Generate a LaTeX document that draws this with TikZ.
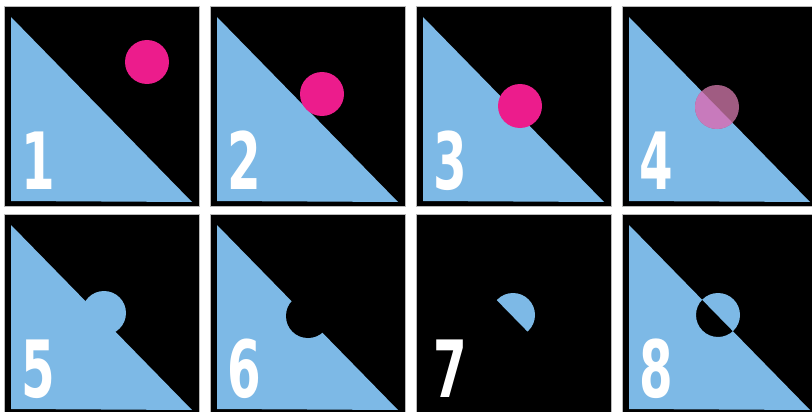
\documentclass[tikz,border=0pt]{standalone}
\usepackage{fontspec}
\newfontfamily\digitfont{DejaVu Sans Condensed}
\usetikzlibrary{positioning}
\definecolor{skyblue}{RGB}{125,185,230}
\definecolor{hotpink}{RGB}{236,28,140}
\definecolor{mauvedark}{RGB}{160,92,130}
\definecolor{mauvelight}{RGB}{200,122,188}
\tikzset{
  panel/.style={fill=black,draw=gray!55,line width=0.7pt},
  tri/.style={fill=skyblue},
  blob/.style={fill=hotpink},
  num/.style={text=white,anchor=base west,inner sep=0pt,
    font=\digitfont\bfseries\fontsize{79}{79}\selectfont}
}
\newcommand{\digit}[1]{\scalebox{0.68}[1]{#1}}

\begin{document}
\begin{tikzpicture}[x=1pt,y=-1pt]
  \fill[white] (0,0) rectangle (812,412);
  \useasboundingbox (0,0) rectangle (812,412);

  % row 1: the dot moves onto the edge
  \begin{scope}[shift={(4,6)}]
    \draw[panel] (0,0) rectangle (195,200);
    \fill[tri] (7,11)--(7,195)--(188,196)--cycle;
    \fill[blob] (143,56) circle (22pt);
    \node[num] (n1) at (17,183) {\digit{1}};
  \end{scope}
  \begin{scope}[shift={(210,6)}]
    \draw[panel] (0,0) rectangle (195,200);
    \fill[tri] (7,11)--(7,195)--(188,196)--cycle;
    \fill[blob] (112,88) circle (22pt);
    \node[num] (n2) at (17,183) {\digit{2}};
  \end{scope}
  \begin{scope}[shift={(416,6)}]
    \draw[panel] (0,0) rectangle (195,200);
    \fill[tri] (7,11)--(7,195)--(188,196)--cycle;
    \fill[blob] (104,100) circle (22pt);
    \node[num] (n3) at (17,183) {\digit{3}};
  \end{scope}
  \begin{scope}[shift={(622,6)}]
    \draw[panel] (0,0) rectangle (195,200);
    \fill[tri] (7,11)--(7,195)--(188,196)--cycle;
    \fill[mauvedark] (95,101) circle (22pt);
    \begin{scope}
      \clip (7,11)--(7,195)--(188,196)--cycle;
      \fill[mauvelight] (95,101) circle (22pt);
    \end{scope}
    \node[num] (n4) at (17,183) {\digit{4}};
  \end{scope}

  % row 2: union, difference, difference, xor
  \begin{scope}[shift={(4,214)}]
    \draw[panel] (0,0) rectangle (195,200);
    \fill[tri] (7,11)--(7,195)--(188,196)--cycle;
    \fill[tri] (100,99) circle (22pt);
    \node[num] (n5) at (17,183) {\digit{5}};
  \end{scope}
  \begin{scope}[shift={(210,214)}]
    \draw[panel] (0,0) rectangle (195,200);
    \fill[tri] (7,11)--(7,195)--(188,196)--cycle;
    \fill[black] (98,102) circle (22pt);
    \node[num] (n6) at (17,183) {\digit{6}};
  \end{scope}
  \begin{scope}[shift={(416,214)}]
    \draw[panel] (0,0) rectangle (195,200);
    \fill[tri] (97,101) circle (22pt);
    \fill[black] (7,11)--(7,195)--(188,196)--cycle;
    \node[num] (n7) at (17,183) {\digit{7}};
  \end{scope}
  \begin{scope}[shift={(622,214)}]
    \draw[panel] (0,0) rectangle (195,200);
    \fill[tri,even odd rule] (7,11)--(7,195)--(188,196)--cycle
      (96,101) circle (22pt);
    \node[num] (n8) at (17,183) {\digit{8}};
  \end{scope}
\end{tikzpicture}
\end{document}
